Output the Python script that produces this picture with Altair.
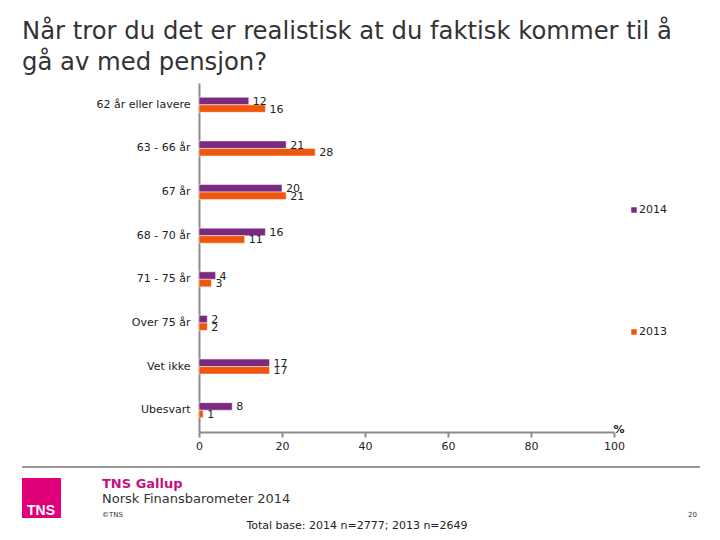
import altair as alt
import pandas as pd

categories = ["62 år eller lavere", "63 - 66 år", "67 år", "68 - 70 år",
              "71 - 75 år", "Over 75 år", "Vet ikke", "Ubesvart"]
values_2014 = [12, 21, 20, 16, 4, 2, 17, 8]
values_2013 = [16, 28, 21, 11, 3, 2, 17, 1]
years = ["2014", "2013"]
colors = ["#7B2A80", "#F0570E"]
x_ticks = [0, 20, 40, 60, 80, 100]

rows = []
for c, v14, v13 in zip(categories, values_2014, values_2013):
    rows.append({"cat": c, "year": "2014", "value": v14})
    rows.append({"cat": c, "year": "2013", "value": v13})
df = pd.DataFrame(rows)

FONT = "DejaVu Sans"
W, H = 415, 349
L, T = 191, 75  # view origin = page (199, 83)

def px(x):
    return x - 199

def py(y):
    return y - 83

color_scale = alt.Scale(domain=years, range=colors)
y_enc = alt.Y("cat:N", sort=categories, title=None,
              scale=alt.Scale(paddingInner=0.655, paddingOuter=0.3275),
              axis=alt.Axis(labelFont=FONT, labelFontSize=11, labelColor="#222222",
                            labelPadding=9, ticks=False, domainColor="#8C8C8C",
                            domainWidth=2))
x_enc = alt.X("value:Q", title=None, scale=alt.Scale(domain=[0, 100], nice=False),
              axis=alt.Axis(values=x_ticks, grid=False, labelFont=FONT, labelFontSize=11,
                            labelColor="#222222", domainColor="#8C8C8C", domainWidth=2,
                            tickColor="#8C8C8C", tickWidth=2, tickSize=5, labelPadding=3,
                            labelFlush=False))
yoff = alt.YOffset("year:N", sort=years)

bars = alt.Chart(df).mark_bar(stroke="white", strokeWidth=0.5).encode(
    y=y_enc, x=x_enc, yOffset=yoff,
    color=alt.Color("year:N", scale=color_scale, legend=None),
)
labels = alt.Chart(df).mark_text(align="left", baseline="middle", dx=4, dy=1,
                                 font=FONT, fontSize=11, color="#222222").encode(
    y=alt.Y("cat:N", sort=categories), x="value:Q", yOffset=yoff,
    text=alt.Text("value:Q"),
)

one = pd.DataFrame({"a": [0]})

def txt(text, x, y, size=11, color="#222222", align="left", weight="normal",
        font=FONT, baseline="alphabetic"):
    return alt.Chart(one).mark_text(text=text, align=align, baseline=baseline,
                                    fontSize=size, color=color, fontWeight=weight,
                                    font=font).encode(
        x=alt.value(px(x)), y=alt.value(py(y)))

title1 = txt("Når tror du det er realistisk at du faktisk kommer til å", 22, 39, size=24.3,
             color="#333333")
title2 = txt("gå av med pensjon?", 22, 70, size=24.3, color="#333333")

leg_df = pd.DataFrame({"year": years, "yy": [py(210), py(332)]})
leg_sq = alt.Chart(leg_df).mark_square(size=30, opacity=1).encode(
    x=alt.value(px(634)), y=alt.Y("yy:Q", scale=None),
    color=alt.Color("year:N", scale=color_scale, legend=None))
leg_txt = alt.Chart(leg_df).mark_text(
    align="left", baseline="middle", font=FONT, fontSize=11, color="#222222").encode(
    x=alt.value(px(639)), y=alt.Y("yy:Q", scale=None), text="year:N")

pct = txt("%", 619, 433, size=11, align="center", weight="bold")

rule = alt.Chart(one).mark_rule(color="#333333", strokeWidth=1).encode(
    x=alt.value(px(22)), x2=alt.value(px(700)), y=alt.value(py(467)))
logo = alt.Chart(one).mark_rect(color="#E2007A").encode(
    x=alt.value(px(22)), x2=alt.value(px(61)), y=alt.value(py(478)), y2=alt.value(py(518)))
logo_txt = txt("TNS", 41, 515, size=14, color="white", align="center", weight="bold",
               font="Liberation Sans")
gallup = txt("TNS Gallup", 102, 488, size=13, color="#C4127F", weight="bold")
norsk = txt("Norsk Finansbarometer 2014", 102, 503, size=13, color="#333333")
copy = txt("©TNS", 102, 517, size=7, color="#333333")
page = txt("20", 697, 517, size=7, color="#333333", align="right")
base = txt("Total base: 2014 n=2777; 2013 n=2649", 357, 529, size=11,
           color="#222222", align="center")

chart = alt.layer(bars, labels, title1, title2, leg_sq, leg_txt, pct, rule, logo,
                  logo_txt, gallup, norsk, copy, page, base).properties(
    width=W, height=H,
    background="white",
    autosize=alt.AutoSizeParams(type="none"),
    padding={"left": L, "top": T, "right": 704 - L - W, "bottom": 524 - T - H},
).configure_view(strokeWidth=0)

chart.save("out.html", embed_options={"renderer": "svg", "actions": False})
